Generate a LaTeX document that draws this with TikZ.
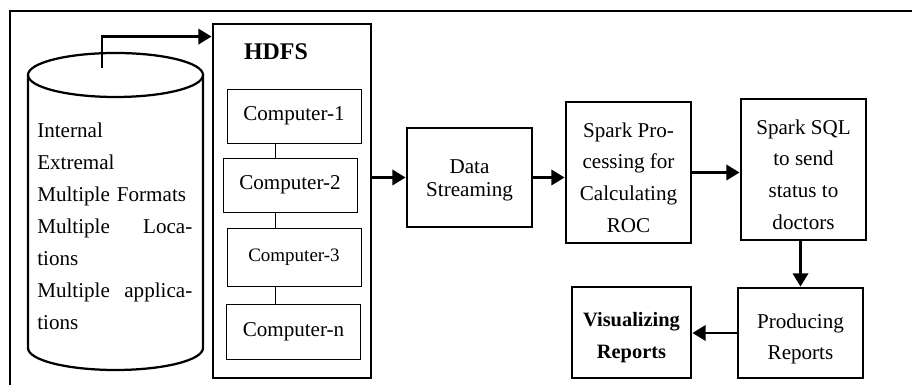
\documentclass[tikz,border=0pt]{standalone}
\usepackage{fontspec}
\setmainfont{Liberation Serif}
\usetikzlibrary{arrows.meta}
\usetikzlibrary{positioning}

\tikzset{
  stage/.style={draw, line width=2pt, minimum width=3.125cm, align=center, inner sep=2pt, text height=85pt, font=\fontsize{15}{22.5}\selectfont},
  comp/.style={draw, line width=0.6pt, minimum width=3.35cm, minimum height=1.35cm, font=\fontsize{15}{18}\selectfont},
  flow/.style={line width=2pt, -{Triangle[length=0.33cm,width=0.38cm]}},
}

\begin{document}
\begin{tikzpicture}
  \useasboundingbox (0,0) rectangle (22.8,9.625);
  \draw[line width=2pt] (0.25,0) -- (0.25,9.35) -- (22.8,9.35);% outer frame

  % data store
  \draw[line width=1.6pt] (0.7,7.75) -- (0.7,0.925) arc[start angle=180, end angle=360, x radius=2.1875, y radius=0.55] -- (5.075,7.75);
  \draw[line width=1.6pt] (2.8875,7.75) ellipse [x radius=2.1875, y radius=0.55];
  \coordinate (dbtop) at (2.55,7.925);
  \node[anchor=north west, inner sep=0pt, text width=3.875cm, align=left, font=\fontsize{15}{22.8}\selectfont] (dbtext) at (0.925,6.56)
    {Internal\\ Extremal\\ Multiple Formats\\ Multiple\hfill Loca-\\ tions\\ Multiple\hfill applica-\\ tions};

  % hdfs and its computers
  \node[draw, line width=2pt, minimum width=3.95cm, minimum height=8.85cm] (hdfs) at (7.3,4.6) {};
  \node[font=\bfseries\fontsize{17}{20}\selectfont] (hdfslbl) at (6.9,8.325) {HDFS};
  \node[comp] (c1) at (7.35,6.725) {Computer-1};
  \node[comp] (c2) at (7.25,5.0) {Computer-2};
  \node[comp, minimum height=1.45cm, font=\fontsize{13.5}{16}\selectfont] (c3) at (7.35,3.2) {Computer-3};
  \node[comp, minimum height=1.375cm] (cn) at (7.3375,1.3375) {Computer-n};
  \coordinate (spine) at (6.875,0);
  \draw[line width=0.6pt] (c1.south -| spine) -- (c2.north -| spine)
    (c2.south -| spine) -- (c3.north -| spine)
    (c3.south -| spine) -- (cn.north -| spine);

  % processing stages
  \node[stage, minimum height=2.475cm, text height=30.6pt, font=\fontsize{15}{16.5}\selectfont] (ds) at (11.7375,5.1875) {Data\\Streaming};
  \node[stage, minimum height=3.525cm] (sp) at (15.7125,5.3125) {Spark Pro-\\cessing for\\Calculating\\ROC};
  \node[stage, minimum height=3.525cm] (sql) at (20.0875,5.3875) {Spark SQL\\to send\\status to\\doctors};
  \node[stage, minimum height=2.25cm, text height=41.3pt] (pr) at (20.0125,1.3) {Producing\\Reports};
  \node[stage, minimum width=2.975cm, minimum height=2.275cm, text height=39.6pt, font=\bfseries\fontsize{14.5}{22.5}\selectfont] (vr) at (15.7875,1.3125) {Visualizing\\Reports};

  % arrows
  \draw[flow] (dbtop) |- ([yshift=-0.35cm]hdfs.north west);
  \draw[flow] (hdfs.east |- ds.west) -- (ds.west);
  \draw[flow] (ds.east) -- (ds.east -| sp.west);
  \draw[flow] (sp.east) -- (sp.east -| sql.west);
  \draw[flow] (pr.north |- sql.south) -- (pr.north);
  \draw[flow] (pr.west) -- (pr.west -| vr.east);
\end{tikzpicture}
\end{document}
